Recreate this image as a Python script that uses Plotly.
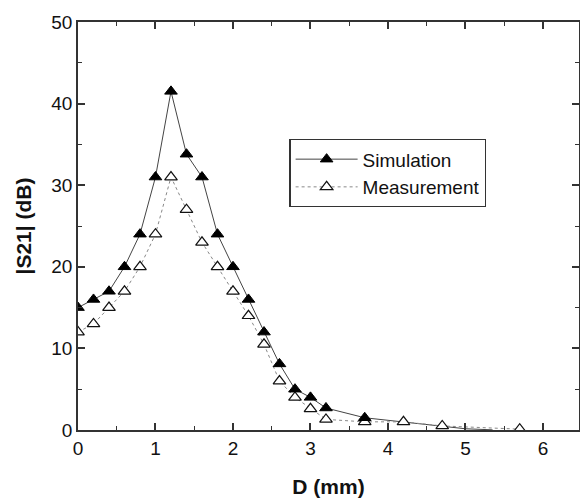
import plotly.graph_objects as go

# Data
sim_x = [0, 0.2, 0.4, 0.6, 0.8, 1.0, 1.2, 1.4, 1.6, 1.8, 2.0, 2.2, 2.4, 2.6, 2.8, 3.0, 3.2, 3.7]
sim_y = [15, 16, 17, 20, 24, 31, 41.5, 33.8, 31, 24, 20, 16, 12, 8.1, 5, 4.0, 2.7, 1.5]
sim_tail_x = [3.7, 4.2, 4.7, 5.0, 5.35]
sim_tail_y = [1.5, 0.95, 0.45, 0.15, 0.02]

meas_x = [0, 0.2, 0.4, 0.6, 0.8, 1.0, 1.2, 1.4, 1.6, 1.8, 2.0, 2.2, 2.4, 2.6, 2.8, 3.0, 3.2, 3.7, 4.2, 4.7, 5.7]
meas_y = [12, 13, 15, 17, 20, 24, 31, 27, 23, 20, 17, 14, 10.5, 6, 4, 2.6, 1.3, 1.0, 1.0, 0.5, 0.1]

x_ticks = [0, 1, 2, 3, 4, 5, 6]
y_ticks = [0, 10, 20, 30, 40, 50]

FONT = "Liberation Sans, Arial, sans-serif"

fig = go.Figure()

fig.add_trace(go.Scatter(
    x=sim_tail_x, y=sim_tail_y, mode="lines",
    line=dict(color="#444444", width=1), showlegend=False, hoverinfo="skip"))

fig.add_trace(go.Scatter(
    x=meas_x, y=meas_y, mode="lines+markers", name="Measurement",
    line=dict(color="#888888", width=1, dash="dot"),
    marker=dict(symbol="triangle-up", size=11, color="white",
                line=dict(color="#111111", width=1.2))))

fig.add_trace(go.Scatter(
    x=sim_x, y=sim_y, mode="lines+markers", name="Simulation",
    line=dict(color="#444444", width=1),
    marker=dict(symbol="triangle-up", size=11, color="#000000",
                line=dict(color="#000000", width=1))))

axis_common = dict(
    showgrid=False, zeroline=False, showline=True, linecolor="#333333",
    linewidth=1.5, mirror="ticks", ticks="inside", ticklen=7, tickwidth=1.5,
    tickcolor="#333333", automargin=False,
    tickfont=dict(family=FONT, size=19, color="#111111"),
)

fig.update_xaxes(
    range=[0, 6.465], tickvals=x_ticks,
    minor=dict(dtick=0.5, ticks="inside", ticklen=4, tickwidth=1.2, tickcolor="#333333"),
    title=dict(text="<b>D (mm)</b>", standoff=22,
               font=dict(family=FONT, size=21, color="#111111")),
    **axis_common)

fig.update_yaxes(
    range=[0, 50], tickvals=y_ticks,
    minor=dict(dtick=5, ticks="inside", ticklen=4, tickwidth=1.2, tickcolor="#333333"),
    title=dict(text="<b>|S21| (dB)</b>", standoff=14,
               font=dict(family=FONT, size=21, color="#111111")),
    **axis_common)

fig.update_layout(
    width=580, height=499,
    margin=dict(l=78, r=1, t=22, b=69),
    paper_bgcolor="white", plot_bgcolor="white",
    showlegend=True,
    legend=dict(
        x=0.422, y=0.713, xanchor="left", yanchor="top",
        bgcolor="white", bordercolor="#333333", borderwidth=1.2,
        traceorder="reversed",
        font=dict(family=FONT, size=19, color="#111111"),
        itemwidth=62,
    ),
)

fig.write_html("out.html", config={"displayModeBar": False},
               post_script="document.body.style.margin='0';document.body.style.overflow='hidden';")
